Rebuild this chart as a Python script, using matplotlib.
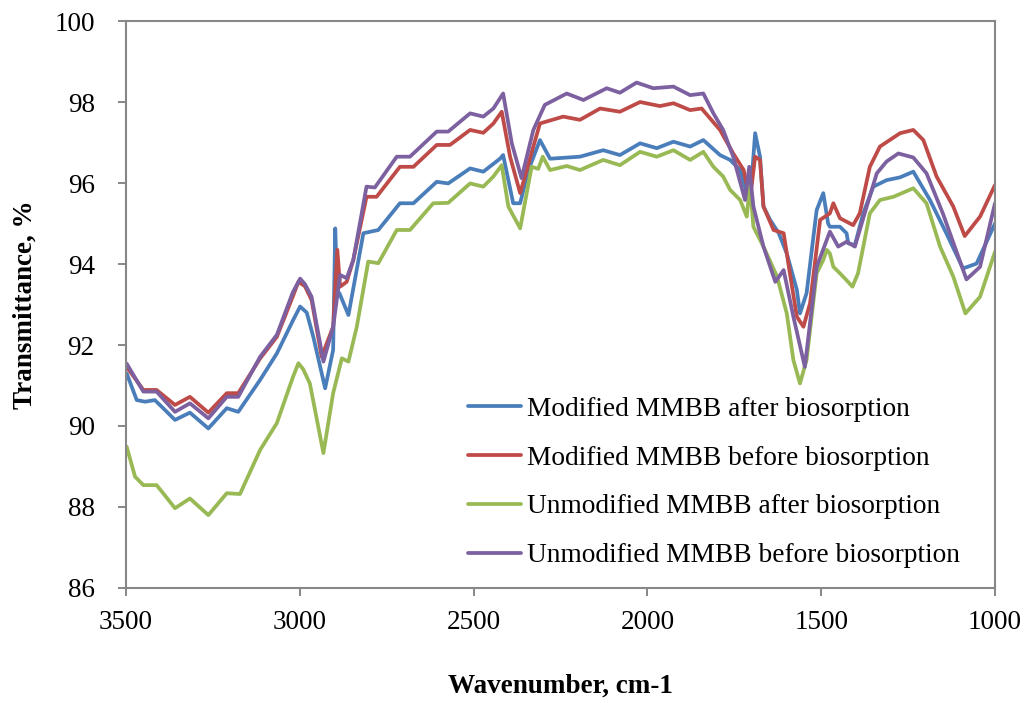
import matplotlib
matplotlib.use("Agg")
import matplotlib.pyplot as plt

# FTIR spectra: wavenumber (cm-1) and transmittance (%)
mod_after_wn = [3498, 3469, 3445, 3417, 3393, 3359, 3316, 3263, 3210, 3177, 3114, 3066,
                3020, 2999, 2980, 2961, 2927, 2904, 2898, 2892, 2886, 2860, 2817, 2774, 2712, 2673,
                2606, 2573, 2510, 2472, 2424, 2415, 2386, 2366, 2343, 2309, 2280, 2194,
                2127, 2079, 2021, 1973, 1925, 1877, 1839, 1791, 1762, 1733, 1705, 1690,
                1676, 1666, 1647, 1622, 1599, 1570, 1561, 1542, 1513, 1494, 1480, 1475,
                1446, 1427, 1422, 1403, 1379, 1350, 1312, 1273, 1235, 1187, 1140, 1092,
                1053, 1000]
mod_after_t = [91.30, 90.64, 90.60, 90.64, 90.44, 90.15, 90.33, 89.94, 90.44, 90.35, 91.14, 91.79,
               92.60, 92.95, 92.80, 92.20, 90.93, 91.88, 94.88, 93.30, 93.28, 92.74, 94.76, 94.84, 95.50, 95.50,
               96.03, 95.99, 96.36, 96.28, 96.60, 96.69, 95.50, 95.50, 96.30, 97.06, 96.60, 96.65,
               96.81, 96.69, 96.98, 96.86, 97.02, 96.90, 97.06, 96.69, 96.57, 96.32, 95.50, 97.23,
               96.65, 95.42, 95.09, 94.76, 94.26, 93.36, 92.78, 93.28, 95.33, 95.75, 95.00, 94.92,
               94.92, 94.76, 94.51, 94.47, 95.25, 95.91, 96.07, 96.14, 96.28, 95.58, 94.76, 93.89,
               94.01, 95.00]

mod_before_wn = [3498, 3450, 3412, 3359, 3316, 3263, 3210, 3177, 3114, 3066, 3020, 3004, 2985, 2966,
                 2937, 2904, 2892, 2884, 2865, 2846, 2808, 2779, 2712, 2673, 2606, 2568,
                 2510, 2472, 2443, 2419, 2395, 2366, 2328, 2309, 2242, 2194, 2136, 2079,
                 2021, 1964, 1925, 1877, 1844, 1820, 1791, 1753, 1723, 1705, 1690, 1676,
                 1666, 1637, 1608, 1590, 1570, 1551, 1532, 1503, 1475, 1465, 1446, 1408,
                 1389, 1360, 1331, 1273, 1235, 1206, 1168, 1120, 1087, 1043, 1000]
mod_before_t = [91.46, 90.89, 90.89, 90.52, 90.72, 90.33, 90.81, 90.81, 91.67, 92.20, 93.20, 93.56, 93.45, 93.11,
                91.71, 92.45, 94.35, 93.44, 93.56, 94.10, 95.66, 95.66, 96.40, 96.40, 96.94, 96.94,
                97.31, 97.24, 97.47, 97.76, 96.65, 95.75, 96.90, 97.47, 97.64, 97.56, 97.84, 97.76,
                98.00, 97.90, 97.97, 97.80, 97.84, 97.60, 97.31, 96.73, 96.32, 95.58, 96.65, 96.57,
                95.42, 94.84, 94.76, 93.77, 92.70, 92.45, 93.03, 95.09, 95.25, 95.50, 95.13, 94.96,
                95.25, 96.40, 96.90, 97.23, 97.31, 97.06, 96.16, 95.42, 94.69, 95.17, 95.95]

unmod_after_wn = [3498, 3474, 3450, 3412, 3393, 3359, 3316, 3263, 3210, 3172, 3114, 3066,
                  3020, 3004, 2990, 2971, 2932, 2904, 2879, 2860, 2836, 2803, 2774, 2721, 2683, 2616,
                  2573, 2510, 2472, 2443, 2419, 2400, 2366, 2333, 2314, 2301, 2280, 2232,
                  2194, 2127, 2079, 2021, 1973, 1925, 1877, 1839, 1810, 1782, 1762, 1733,
                  1714, 1705, 1695, 1666, 1627, 1599, 1580, 1561, 1542, 1513, 1494, 1484,
                  1475, 1465, 1446, 1427, 1410, 1394, 1360, 1331, 1292, 1235, 1197, 1158,
                  1120, 1085, 1043, 1000]
unmod_after_t = [89.49, 88.75, 88.54, 88.54, 88.34, 87.97, 88.21, 87.80, 88.34, 88.32, 89.41, 90.07,
                 91.20, 91.55, 91.40, 91.05, 89.33, 90.81, 91.67, 91.59, 92.45, 94.06, 94.02, 94.84, 94.84, 95.50,
                 95.51, 95.99, 95.91, 96.16, 96.44, 95.42, 94.88, 96.40, 96.35, 96.65, 96.32, 96.42,
                 96.32, 96.57, 96.44, 96.77, 96.65, 96.81, 96.57, 96.77, 96.40, 96.16, 95.83, 95.58,
                 95.17, 95.99, 94.92, 94.43, 93.69, 92.78, 91.63, 91.05, 91.63, 93.77, 94.10, 94.35,
                 94.26, 93.93, 93.77, 93.60, 93.44, 93.77, 95.25, 95.58, 95.66, 95.87, 95.50, 94.43,
                 93.69, 92.78, 93.19, 94.30]

unmod_before_wn = [3498, 3450, 3412, 3359, 3316, 3263, 3210, 3177, 3114, 3066, 3020, 2999, 2985, 2966,
                   2932, 2904, 2884, 2865, 2846, 2808, 2784, 2721, 2683, 2606, 2573, 2510,
                   2472, 2443, 2415, 2390, 2362, 2328, 2295, 2232, 2184, 2117, 2079, 2031,
                   1983, 1925, 1877, 1839, 1810, 1782, 1753, 1719, 1707, 1695, 1666, 1632,
                   1608, 1580, 1547, 1513, 1475, 1451, 1427, 1403, 1369, 1340, 1312, 1278,
                   1235, 1197, 1150, 1082, 1043, 1000]
unmod_before_t = [91.54, 90.85, 90.85, 90.35, 90.56, 90.19, 90.72, 90.72, 91.71, 92.25, 93.30, 93.64, 93.50, 93.19,
                  91.59, 92.45, 93.73, 93.65, 94.10, 95.91, 95.89, 96.65, 96.65, 97.27, 97.27, 97.72,
                  97.64, 97.84, 98.21, 96.98, 96.12, 97.31, 97.93, 98.21, 98.05, 98.34, 98.23, 98.48,
                  98.34, 98.38, 98.17, 98.21, 97.72, 97.31, 96.65, 95.58, 96.40, 95.42, 94.43, 93.56,
                  93.85, 92.70, 91.46, 93.93, 94.80, 94.43, 94.55, 94.43, 95.42, 96.24, 96.53, 96.73,
                  96.63, 96.24, 95.25, 93.62, 93.93, 95.50]

series_labels = ["Modified MMBB after biosorption",
                 "Modified MMBB before biosorption",
                 "Unmodified MMBB after biosorption",
                 "Unmodified MMBB before biosorption"]
series_colors = ["#4A7EBB", "#BE4B48", "#98B954", "#7D60A0"]

x_ticks = [3500, 3000, 2500, 2000, 1500, 1000]
y_ticks = [86, 88, 90, 92, 94, 96, 98, 100]

plt.rcParams['font.family'] = ['Liberation Serif', 'DejaVu Serif']

fig = plt.figure(figsize=(10.30, 7.03), dpi=100)
ax = fig.add_axes([0.1223, 0.1636, 0.8437, 0.8065])

data = [(mod_after_wn, mod_after_t), (mod_before_wn, mod_before_t),
        (unmod_after_wn, unmod_after_t), (unmod_before_wn, unmod_before_t)]
for (wn, t), lab, col in zip(data, series_labels, series_colors):
    ax.plot(wn, t, color=col, lw=2.7, label=lab,
            solid_joinstyle='round', solid_capstyle='round')

ax.set_xlim(3500, 1000)
ax.set_ylim(86, 100)
ax.set_xticks(x_ticks)
ax.set_yticks(y_ticks)
ax.tick_params(axis='both', direction='out', length=5.5, width=1.4, color='#878787',
               labelsize=19.5)
ax.tick_params(axis='x', pad=10)
ax.tick_params(axis='y', pad=17)
for s in ax.spines.values():
    s.set_color('#878787')
    s.set_linewidth(1.5)

ax.set_xlabel("Wavenumber, cm-1", fontsize=19.5, fontweight='bold', labelpad=28)
ax.set_ylabel("Transmittance, %", fontsize=19.5, fontweight='bold', labelpad=12)

leg = ax.legend(loc='upper left', bbox_to_anchor=(0.3935, 0.337), frameon=False,
                fontsize=19.7, handlelength=1.95, handletextpad=0.22, labelspacing=0.86,
                borderpad=0, borderaxespad=0)

fig.savefig("out.png", dpi=100)
